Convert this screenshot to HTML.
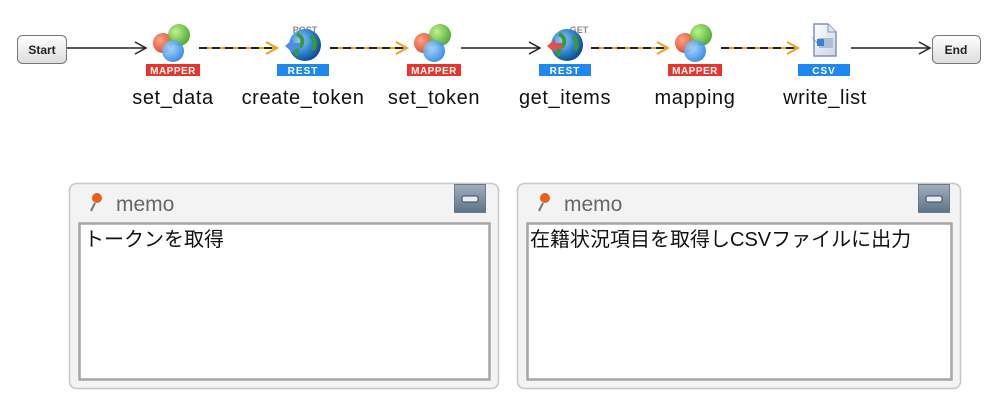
<!DOCTYPE html>
<html><head><meta charset="utf-8"><style>
html,body{margin:0;padding:0;background:#fff;width:1006px;height:414px;overflow:hidden}
svg{display:block}
text{font-family:"Liberation Sans","Noto Sans CJK JP",sans-serif}
</style></head><body>
<svg width="1006" height="414" viewBox="0 0 1006 414">
<defs>
<linearGradient id="btn" x1="0" y1="0" x2="0" y2="1"><stop offset="0" stop-color="#fff"/><stop offset="1" stop-color="#dcdcdc"/></linearGradient>
<radialGradient id="globe" cx="0.35" cy="0.35" r="0.7"><stop offset="0" stop-color="#8fd0ff"/><stop offset="0.6" stop-color="#2a7fd0"/><stop offset="1" stop-color="#0d4a8a"/></radialGradient>
<radialGradient id="rc" cx="0.35" cy="0.35" r="0.7"><stop offset="0" stop-color="#ffa080"/><stop offset="1" stop-color="#e03a1a"/></radialGradient>
<radialGradient id="gc" cx="0.35" cy="0.35" r="0.7"><stop offset="0" stop-color="#b8f080"/><stop offset="1" stop-color="#3aa020"/></radialGradient>
<radialGradient id="bc" cx="0.35" cy="0.35" r="0.7"><stop offset="0" stop-color="#a0d8ff"/><stop offset="1" stop-color="#2a80e0"/></radialGradient>
<linearGradient id="minb" x1="0" y1="0" x2="0" y2="1"><stop offset="0" stop-color="#9fb0c0"/><stop offset="1" stop-color="#5e7386"/></linearGradient>
<linearGradient id="doc" x1="0" y1="0" x2="1" y2="1"><stop offset="0" stop-color="#ffffff"/><stop offset="1" stop-color="#c8d4e6"/></linearGradient>
<g id="mapper">
<circle cx="-10" cy="-5" r="10" fill="url(#rc)" opacity="0.95"/>
<circle cx="6" cy="-13" r="11" fill="url(#gc)" opacity="0.9"/>
<circle cx="0" cy="3" r="11" fill="url(#bc)" opacity="0.9"/>
<rect x="-27" y="16" width="54" height="12" fill="#e8342a"/>
<text x="0" y="26" font-size="10" font-weight="bold" fill="#fff" text-anchor="middle" letter-spacing="0.5">MAPPER</text>
</g>
<g id="restb"><rect x="-26" y="16" width="52" height="12" fill="#1e88f0"/>
<text x="0" y="26" font-size="10" font-weight="bold" fill="#fff" text-anchor="middle" letter-spacing="1">REST</text></g>
</defs>

<rect x="17.5" y="35.5" width="49" height="28" rx="5" fill="url(#btn)" stroke="#777"/>
<text x="42" y="54" font-size="12" font-weight="bold" text-anchor="middle" fill="#222">Start</text>
<rect x="932.5" y="35.5" width="48" height="28" rx="5" fill="url(#btn)" stroke="#777"/>
<text x="956" y="54" font-size="12" font-weight="bold" text-anchor="middle" fill="#222">End</text>

<g stroke="#222" stroke-width="1.5" fill="none">
<line x1="67" y1="48" x2="146" y2="48"/><polyline points="135,42 146,48 135,54"/>
<line x1="461" y1="48" x2="540" y2="48"/><polyline points="529,42 540,48 529,54"/>
<line x1="851" y1="48" x2="930" y2="48"/><polyline points="919,42 930,48 919,54"/>
</g>
<g fill="none" stroke-width="2">
<line x1="199" y1="48" x2="276" y2="48" stroke="#f0a020"/><line x1="199" y1="48" x2="276" y2="48" stroke="#222" stroke-dasharray="8,5"/>
<polyline points="266,42 277,48 266,54" stroke="#f0a020"/>
<line x1="330" y1="48" x2="406" y2="48" stroke="#f0a020"/><line x1="330" y1="48" x2="406" y2="48" stroke="#222" stroke-dasharray="8,5"/>
<polyline points="396,42 407,48 396,54" stroke="#f0a020"/>
<line x1="591" y1="48" x2="667" y2="48" stroke="#f0a020"/><line x1="591" y1="48" x2="667" y2="48" stroke="#222" stroke-dasharray="8,5"/>
<polyline points="657,42 668,48 657,54" stroke="#f0a020"/>
<line x1="721" y1="48" x2="797" y2="48" stroke="#f0a020"/><line x1="721" y1="48" x2="797" y2="48" stroke="#222" stroke-dasharray="8,5"/>
<polyline points="787,42 798,48 787,54" stroke="#f0a020"/>
</g>

<use href="#mapper" x="173" y="48"/>
<use href="#mapper" x="434" y="48"/>
<use href="#mapper" x="695" y="48"/>

<g transform="translate(303,48)">
<text x="2" y="-15" font-size="9" font-weight="bold" fill="#888" text-anchor="middle">POST</text>
<circle cx="2" cy="-3" r="16" fill="url(#globe)"/>
<path d="M-6,-14 q8,4 4,12 q-6,2 -4,10 M8,-12 q6,6 2,14" stroke="#3a9a30" stroke-width="4" fill="none"/>
<path d="M-18,-2 l8,-7 v4 h7 v6 h-7 v4 z" fill="#4a90e0"/>
<use href="#restb"/>
</g>
<g transform="translate(565,48)">
<text x="14" y="-15" font-size="9" font-weight="bold" fill="#888" text-anchor="middle">GET</text>
<circle cx="2" cy="-3" r="16" fill="url(#globe)"/>
<path d="M-6,-14 q8,4 4,12 q-6,2 -4,10 M8,-12 q6,6 2,14" stroke="#3a9a30" stroke-width="4" fill="none"/>
<path d="M-18,-2 l8,-7 v4 h7 v6 h-7 v4 z" fill="#e05050"/>
<use href="#restb"/>
</g>
<g transform="translate(824,48)">
<path d="M-10,-24 h14 l8,8 v24 h-22 z" fill="url(#doc)" stroke="#7f93b3" stroke-width="1.5"/>
<path d="M4,-24 v8 h8" fill="#dde6f2" stroke="#7f93b3"/>
<rect x="-5" y="-10" width="14" height="10" fill="#a9bcd8"/>
<path d="M-15,-13 l8,7 v-3 h7 v7 h-7 v-3 z" fill="#3a80d0"/>
<rect x="-26" y="16" width="52" height="12" fill="#1e88f0"/>
<text x="0" y="26" font-size="10" font-weight="bold" fill="#fff" text-anchor="middle" letter-spacing="1">CSV</text>
</g>

<g font-size="20" fill="#111" text-anchor="middle" letter-spacing="0.6">
<text x="173" y="104">set_data</text>
<text x="303" y="104">create_token</text>
<text x="434" y="104">set_token</text>
<text x="565" y="104">get_items</text>
<text x="695" y="104">mapping</text>
<text x="825" y="104">write_list</text>
</g>

<rect x="69.5" y="183.5" width="429" height="205" rx="7" fill="#f3f3f4" stroke="#c4c6c9" stroke-width="1.5"/>
<circle cx="97" cy="198" r="5" fill="#e8601a"/><line x1="95" y1="203" x2="91" y2="211" stroke="#777" stroke-width="2"/>
<text x="116" y="211" font-size="21" fill="#666">memo</text>
<rect x="454.5" y="184.5" width="31" height="28" fill="url(#minb)" stroke="#6a7a8a"/>
<rect x="462" y="196" width="16" height="6" rx="2" fill="#e8edf2" stroke="#445"/>
<rect x="79.5" y="223.5" width="410" height="156" fill="#fff" stroke="#a6a6a6" stroke-width="2.5"/>
<text x="84" y="246" font-size="20" fill="#111">トークンを取得</text>

<rect x="517.5" y="183.5" width="443" height="205" rx="7" fill="#f3f3f4" stroke="#c4c6c9" stroke-width="1.5"/>
<circle cx="545" cy="198" r="5" fill="#e8601a"/><line x1="543" y1="203" x2="539" y2="211" stroke="#777" stroke-width="2"/>
<text x="564" y="211" font-size="21" fill="#666">memo</text>
<rect x="918.5" y="184.5" width="31" height="28" fill="url(#minb)" stroke="#6a7a8a"/>
<rect x="926" y="196" width="16" height="6" rx="2" fill="#e8edf2" stroke="#445"/>
<rect x="527.5" y="223.5" width="424" height="156" fill="#fff" stroke="#a6a6a6" stroke-width="2.5"/>
<text x="530" y="246" font-size="20" fill="#111">在籍状況項目を取得しCSVファイルに出力</text>
</svg>
</body></html>
